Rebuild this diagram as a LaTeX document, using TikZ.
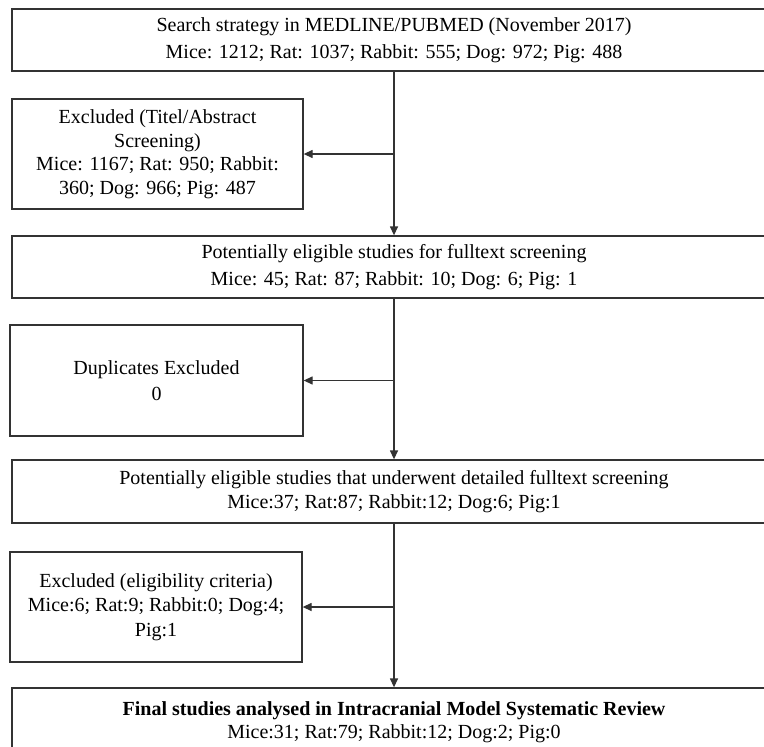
\documentclass[tikz,border=0pt]{standalone}
\usepackage{fontspec}
\setmainfont{Liberation Serif}
\usetikzlibrary{arrows.meta}
\tikzset{
  boxstyle/.style={draw=black!80, line width=1.3pt, rectangle, inner sep=0pt, align=center,
    font=\fontsize{20}{23.5}\selectfont, text=black},
  wide/.style={boxstyle, minimum width=764pt},
  side/.style={boxstyle},
  arr/.style={draw=black!80, line width=1.3pt, -{Triangle[length=9pt,width=8pt]}}
}
\begin{document}
\begin{tikzpicture}[x=1pt,y=-1pt]
\useasboundingbox (0,0) rectangle (764,747);
\clip (0,0) rectangle (764,747);
\fill[white] (0,0) rectangle (764,747);

\node[wide, minimum height=62pt] (top) at (394,40)
  {Search strategy in MEDLINE/PUBMED (November 2017)\\[3pt]Mice: 1212; Rat: 1037; Rabbit: 555; Dog: 972; Pig: 488};

\node[side, minimum width=291pt, minimum height=110pt] (ex1) at (157.5,154)
  {\rule{0pt}{4pt}Excluded (Titel/Abstract\\Screening)\\Mice: 1167; Rat: 950; Rabbit:\\360; Dog: 966; Pig: 487};

\node[wide, minimum height=62pt] (elig) at (394,267)
  {\rule{0pt}{5pt}Potentially eligible studies for fulltext screening\\[3pt]Mice: 45; Rat: 87; Rabbit: 10; Dog: 6; Pig: 1};

\node[side, minimum width=293pt, minimum height=111pt] (dup) at (156.5,380.5)
  {\rule{0pt}{4pt}Duplicates Excluded\\[2pt]0};

\node[wide, minimum height=63pt] (full) at (394,491.5)
  {\rule{0pt}{4pt}Potentially eligible studies that underwent detailed fulltext screening\\Mice:37; Rat:87; Rabbit:12; Dog:6; Pig:1};

\node[side, minimum width=292pt, minimum height=110pt] (ex2) at (156,607)
  {Excluded (eligibility criteria)\\[1pt]Mice:6; Rat:9; Rabbit:0; Dog:4;\\[1pt]Pig:1};

\node[wide, minimum height=68pt] (final) at (394,722)
  {\textbf{Final studies analysed in Intracranial Model Systematic Review}\\Mice:31; Rat:79; Rabbit:12; Dog:2; Pig:0};

\draw[arr] (top.south) -- (elig.north);
\draw[arr] (top.south |- ex1.east) -- (ex1.east);
\draw[arr] (elig.south) -- (full.north);
\draw[arr] (elig.south |- dup.east) -- (dup.east);
\draw[arr] (full.south) -- (final.north);
\draw[arr] (full.south |- ex2.east) -- (ex2.east);
\end{tikzpicture}
\end{document}
